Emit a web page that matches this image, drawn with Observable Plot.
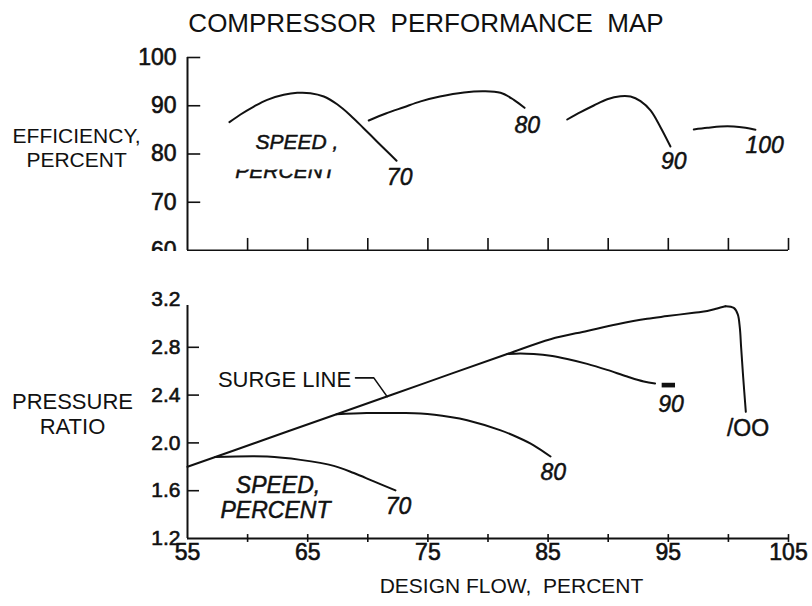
<!DOCTYPE html>
<html>
<head>
<meta charset="utf-8">
<script src="https://cdn.jsdelivr.net/npm/d3@7"></script>
<script src="https://cdn.jsdelivr.net/npm/@observablehq/plot@0.6"></script>
<style>
  html, body { margin: 0; padding: 0; background: #fff; }
  #wrap { position: relative; width: 812px; height: 606px; overflow: hidden; font-family: "Liberation Sans", Arial, sans-serif; color: #111; }
  #title { position: absolute; top: 10px; left: 40px; width: 772px; text-align: center; font-size: 26px; line-height: 26px; white-space: pre; }
  #caption { position: absolute; top: 575px; left: 211px; width: 601px; text-align: center; font-size: 21px; line-height: 21px; white-space: pre; }
  #top { position: absolute; top: 40px; left: 0; }
  #bottom { position: absolute; top: 251px; left: 0; }
</style>
</head>
<body>
<div id="wrap">
  <div id="title">COMPRESSOR  PERFORMANCE  MAP</div>
  <div id="top"></div>
  <div id="bottom"></div>
  <div id="caption">DESIGN FLOW,  PERCENT</div>
</div>
<script>
// ---------- data ----------
const flowTicks = [60, 65, 70, 75, 80, 85, 90, 95, 100, 105];
const flowLabelTicks = [55, 65, 75, 85, 95, 105];
const effTicks = [60, 70, 80, 90, 100];
const prTicks = [1.2, 1.6, 2.0, 2.4, 2.8, 3.2];

// efficiency vs design flow, by speed (percent)
const eff70 = [[58.49, 86.6], [59.41, 88.19], [60.52, 89.84], [61.63, 91.23], [63.01, 92.26], [64.13, 92.68], [65.23, 92.61], [66.34, 91.92], [67.45, 90.3], [68.56, 88.0], [69.67, 85.3], [70.78, 82.55], [71.89, 79.85], [72.39, 78.6]];
const eff80 = [[70.08, 86.94], [71.5, 88.4], [73.0, 89.7], [74.4, 90.9], [76.0, 91.9], [78.0, 92.75], [79.65, 93.0], [81.04, 92.68], [82.15, 91.23], [83.04, 89.57]];
const eff90 = [[86.59, 87.15], [87.7, 88.67], [88.8, 90.05], [89.92, 91.36], [91.02, 91.99], [91.86, 91.92], [92.69, 90.95], [93.52, 89.02], [94.35, 85.56], [95.18, 81.55]];
const eff100 = [[97.12, 85.08], [98.24, 85.42], [99.35, 85.7], [100.45, 85.7], [101.42, 85.42], [102.25, 85.01]];

// pressure ratio vs design flow
const surgeLine = [[55, 1.80], [61.2, 2.02], [67.4, 2.24], [74.5, 2.492], [81.6, 2.744], [85.2, 2.868], [88.25, 2.937], [90.75, 2.993], [93.24, 3.039], [94.91, 3.061], [97.12, 3.089], [98.24, 3.103], [99.07, 3.125], [99.76, 3.144]];
const pr100 = [[99.76, 3.144], [100.45, 3.13], [100.78, 3.076], [100.95, 2.964], [101.06, 2.798], [101.23, 2.549], [101.45, 2.26]];
const pr90 = [[81.6, 2.744], [82.69, 2.749], [83.8, 2.744], [85.2, 2.729], [86.59, 2.702], [88.25, 2.661], [89.91, 2.611], [91.58, 2.555], [92.96, 2.514], [93.9, 2.498]];
const pr80 = [[67.4, 2.24], [69.9, 2.25], [72.7, 2.25], [74.4, 2.246], [76.86, 2.217], [78.27, 2.19], [81.0, 2.107], [82.5, 2.045], [83.8, 1.98], [85.2, 1.886]];
const pr70 = [[57.3, 1.882], [61.63, 1.886], [64.4, 1.858], [67.17, 1.808], [68.84, 1.748], [70.5, 1.678], [72.3, 1.603]];

// annotations (data-space anchors)
const topSpeedLabels = [
  {text: "70", flow: 72.65, eff: 75.03},
  {text: "80", flow: 83.26, eff: 85.84},
  {text: "90", flow: 95.46, eff: 78.48},
  {text: "100", flow: 103.02, eff: 81.7}
];
const bottomSpeedLabels = [
  {text: "70", flow: 72.55, pr: 1.47},
  {text: "80", flow: 85.43, pr: 1.748},
  {text: "90", flow: 95.23, pr: 2.32}
];
const surgeLeader = [[68.98, 2.544], [70.5, 2.544], [71.61, 2.387]];
const dash90 = [{x1: 94.49, x2: 95.6, y1: 2.46, y2: 2.499}];

// ---------- drawing ----------
const font = "'Liberation Sans', Arial, sans-serif";
const ink = "#111";
const lineOpts = () => ({x: d => d[0], y: d => d[1], curve: "catmull-rom", stroke: ink, strokeWidth: 2});
const penText = {fontStyle: "italic", fontSize: 23, fill: ink, stroke: ink, strokeWidth: 0.5};

function thickenTicks(svg) {
  svg.querySelectorAll('[aria-label^="y-axis"] text, [aria-label^="x-axis"] text').forEach(t => {
    t.setAttribute("stroke", ink);
    t.setAttribute("stroke-width", "0.6");
  });
}

const topPlot = Plot.plot({
  width: 812, height: 211,
  marginTop: 17, marginBottom: 1, marginLeft: 187, marginRight: 24,
  x: {domain: [55, 105], axis: null},
  y: {domain: [60, 100], ticks: effTicks, tickSize: 0, tickPadding: 11, label: null, tickFormat: d => String(d)},
  style: {background: "transparent", overflow: "hidden", fontFamily: font, fontSize: "23px", color: ink},
  marks: [
    Plot.ruleX([55], {y1: 60, y2: 100, stroke: ink, strokeWidth: 2}),
    Plot.ruleY([60], {x1: 55, x2: 105, stroke: ink, strokeWidth: 2.2}),
    Plot.ruleY(effTicks.filter(d => d > 60), {y: d => d, x1: 55, x2: 56.1, stroke: ink, strokeWidth: 1.6}),
    Plot.ruleX(flowTicks, {x: d => d, y1: 60, y2: 62.5, stroke: ink, strokeWidth: 1.6}),
    Plot.line(eff70, lineOpts()),
    Plot.line(eff80, lineOpts()),
    Plot.line(eff90, lineOpts()),
    Plot.line(eff100, lineOpts()),
    Plot.text(topSpeedLabels, {x: "flow", y: "eff", text: "text", ...penText}),
    Plot.text(["SPEED ,"], {x: 64.11, y: 82.38, text: d => d, ...penText, fontSize: 21}),
    Plot.text(["PERCENT"], {x: 63.15, y: 76.48, text: d => d, ...penText, fontSize: 21}),
    Plot.text(["EFFICIENCY,\nPERCENT"], {x: 45.77, y: 81.45, text: d => d, fontSize: 21, lineHeight: 1.19})
  ]
});
document.getElementById("top").appendChild(topPlot);
thickenTicks(topPlot);
// the scanned original only shows the lower strokes of this word
topPlot.querySelectorAll("text").forEach(t => {
  if (t.textContent === "PERCENT") t.style.clipPath = "inset(47% 0 0 0)";
});

const bottomPlot = Plot.plot({
  width: 812, height: 321,
  marginTop: 48, marginBottom: 34, marginLeft: 187, marginRight: 24,
  x: {domain: [55, 105], ticks: flowLabelTicks, tickSize: 0, tickPadding: 5, label: null, tickFormat: d => String(d)},
  y: {domain: [1.2, 3.2], ticks: prTicks, tickSize: 0, tickPadding: 7, label: null, tickFormat: d => d.toFixed(1)},
  style: {background: "transparent", fontFamily: font, fontSize: "23px", color: ink},
  marks: [
    Plot.ruleX([55], {y1: 1.2, y2: 3.15, stroke: ink, strokeWidth: 2}),
    Plot.ruleY([1.2], {x1: 55, x2: 105, stroke: ink, strokeWidth: 2.2}),
    Plot.ruleY(prTicks.filter(d => d > 1.2 && d < 3.2), {y: d => d, x1: 55, x2: 56, stroke: ink, strokeWidth: 1.6}),
    Plot.ruleX(flowTicks, {x: d => d, y1: 1.167, y2: 1.233, stroke: ink, strokeWidth: 1.6}),
    Plot.line(surgeLine, lineOpts()),
    Plot.line(pr100, lineOpts()),
    Plot.line(pr90, lineOpts()),
    Plot.line(pr80, lineOpts()),
    Plot.line(pr70, lineOpts()),
    Plot.line(surgeLeader, {x: d => d[0], y: d => d[1], stroke: ink, strokeWidth: 1.6}),
    Plot.rect(dash90, {x1: "x1", x2: "x2", y1: "y1", y2: "y2", fill: ink}),
    Plot.text(["SURGE LINE"], {x: 63.07, y: 2.529, text: d => d, fontSize: 22}),
    Plot.text(bottomSpeedLabels, {x: "flow", y: "pr", text: "text", ...penText}),
    Plot.text(["/OO"], {x: 101.63, y: 2.12, text: d => d, fontSize: 23, fill: ink, stroke: ink, strokeWidth: 0.5}),
    Plot.text(["SPEED,"], {x: 62.53, y: 1.639, text: d => d, ...penText}),
    Plot.text(["PERCENT"], {x: 62.32, y: 1.434, text: d => d, ...penText}),
    Plot.text(["PRESSURE\nRATIO"], {x: 45.43, y: 2.245, text: d => d, fontSize: 22, lineHeight: 1.14})
  ]
});
document.getElementById("bottom").appendChild(bottomPlot);
bottomPlot.querySelectorAll('[aria-label="y-axis"], [aria-label="y-axis tick label"]').forEach(g => g.setAttribute("font-size", "21"));
thickenTicks(bottomPlot);
</script>
</body>
</html>
